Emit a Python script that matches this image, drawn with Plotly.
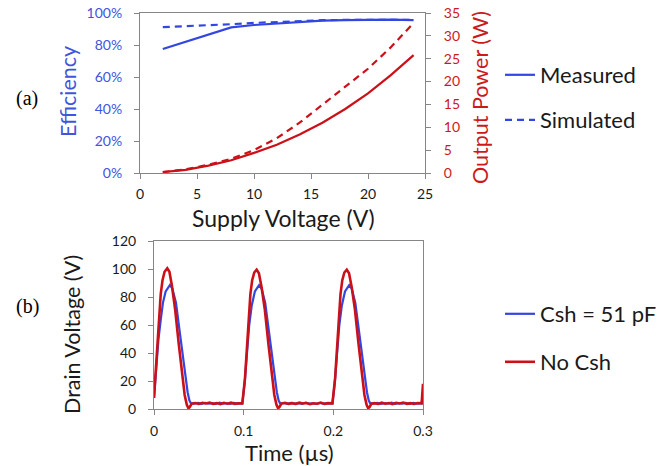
import plotly.graph_objects as go

# ---------------- data: panel (a) ----------------
supply_v = [2, 4, 6, 8, 10, 12, 14, 16, 18, 20, 22, 24]
eff_measured = [0.775, 0.82, 0.865, 0.91, 0.925, 0.935, 0.945, 0.952, 0.955, 0.957, 0.958, 0.955]
eff_simulated = [0.912, 0.917, 0.923, 0.930, 0.938, 0.945, 0.952, 0.955, 0.957, 0.958, 0.958, 0.958]
pout_measured = [0.2, 0.7, 1.6, 2.8, 4.4, 6.2, 8.4, 11.0, 14.0, 17.4, 21.4, 25.8]
pout_simulated = [0.2, 0.8, 1.8, 3.1, 5.0, 7.6, 11.0, 15.0, 18.8, 22.8, 27.5, 32.8]

# ---------------- data: panel (b) ----------------
red_t = [0.000, 0.0025, 0.0053, 0.0075, 0.0095, 0.0118, 0.0148, 0.0172, 0.0200, 0.0236, 0.0275, 0.0315, 0.0342, 0.0366, 0.0384, 0.0400, 0.0420,
         0.046, 0.050, 0.054, 0.058, 0.062, 0.066, 0.070, 0.074, 0.078, 0.082, 0.086, 0.090, 0.094, 0.0985,
         0.1015, 0.1053, 0.1075, 0.1095, 0.1118, 0.1145, 0.1170, 0.1200, 0.1236, 0.1275, 0.1315, 0.1342, 0.1366, 0.1384, 0.1400, 0.1420,
         0.146, 0.150, 0.154, 0.158, 0.162, 0.166, 0.170, 0.174, 0.178, 0.182, 0.186, 0.190, 0.194, 0.1990,
         0.2020, 0.2058, 0.2080, 0.2100, 0.2123, 0.2150, 0.2175, 0.2205, 0.2241, 0.2280, 0.2320, 0.2347, 0.2371, 0.2389, 0.2405, 0.2425,
         0.246, 0.250, 0.254, 0.258, 0.262, 0.266, 0.270, 0.274, 0.278, 0.282, 0.286, 0.290, 0.294, 0.2985, 0.3000]
red_v = [8, 34, 62, 82, 92, 98, 100.5, 98, 88, 71, 47, 24, 10, 3, 0.5, 1.5, 3.8,
         4.3, 3.6, 4.4, 3.9, 4.6, 3.7, 4.2, 3.5, 4.4, 3.8, 4.5, 3.7, 4.1, 4.0,
         22, 62, 82, 92, 97.5, 99.5, 97, 87, 71, 47, 24, 10, 3, 0.5, 1.5, 3.8,
         4.4, 3.7, 4.2, 3.6, 4.5, 3.9, 4.3, 3.4, 4.1, 3.8, 4.6, 3.6, 4.2, 4.0,
         22, 62, 82, 92, 97.5, 99.5, 97, 87, 71, 47, 24, 10, 3, 0.5, 1.5, 3.8,
         4.2, 3.6, 4.5, 3.8, 4.3, 3.5, 4.4, 3.9, 4.6, 3.7, 4.2, 3.6, 4.3, 4.0, 18]

blue_t = [0.000, 0.0025, 0.0050, 0.0076, 0.0100, 0.0130, 0.0178, 0.0205, 0.0245, 0.0285, 0.0320, 0.0349, 0.0375, 0.0395, 0.0410,
          0.045, 0.049, 0.053, 0.057, 0.061, 0.065, 0.069, 0.073, 0.077, 0.081, 0.085, 0.089, 0.093, 0.0985,
          0.1010, 0.1035, 0.1062, 0.1090, 0.1125, 0.1172, 0.1200, 0.1240, 0.1280, 0.1315, 0.1344, 0.1370, 0.1390, 0.1405,
          0.145, 0.149, 0.153, 0.157, 0.161, 0.165, 0.169, 0.173, 0.177, 0.181, 0.185, 0.189, 0.193, 0.1990,
          0.2015, 0.2040, 0.2067, 0.2095, 0.2130, 0.2177, 0.2205, 0.2245, 0.2285, 0.2320, 0.2349, 0.2375, 0.2395, 0.2410,
          0.245, 0.249, 0.253, 0.257, 0.261, 0.265, 0.269, 0.273, 0.277, 0.281, 0.285, 0.289, 0.293, 0.2985, 0.3000]
blue_v = [8, 28, 50, 64, 76, 84, 88.6, 86, 76, 56, 38, 24, 12, 6, 4.2,
          3.8, 4.3, 3.7, 4.4, 3.9, 4.2, 3.6, 4.5, 3.8, 4.1, 3.7, 4.4, 3.9, 4.0,
          18, 40, 60, 74, 84, 88.5, 86, 76, 56, 38, 24, 12, 6, 4.2,
          4.1, 3.7, 4.4, 3.8, 4.2, 3.6, 4.5, 3.9, 4.1, 3.7, 4.3, 3.8, 4.2, 4.0,
          18, 40, 60, 74, 84, 88.5, 86, 76, 56, 38, 24, 12, 6, 4.2,
          3.9, 4.4, 3.7, 4.2, 3.8, 4.5, 3.6, 4.1, 3.9, 4.3, 3.7, 4.4, 3.8, 4.0, 12]

BLUE = "#3346e0"
BLUE_TXT = "#4254dc"
RED = "#cc1018"
RED_TXT = "#cc1a1a"
AX = "#868686"
TXT = "#1a1a1a"
FONT = "Lato"

W, H = 668, 466

def px(x):
    return x / W

def py(y):
    return 1 - y / H

fig = go.Figure()

# panel (a)
fig.add_trace(go.Scatter(x=supply_v, y=eff_measured, mode="lines", name="Measured",
                         line=dict(color=BLUE, width=2.2), xaxis="x", yaxis="y", legend="legend"))
fig.add_trace(go.Scatter(x=supply_v, y=eff_simulated, mode="lines", name="Simulated",
                         line=dict(color=BLUE, width=2.2, dash="7px,5px"), xaxis="x", yaxis="y", legend="legend2"))
fig.add_trace(go.Scatter(x=supply_v, y=pout_measured, mode="lines", name="Measured power", showlegend=False,
                         line=dict(color=RED, width=2.2), xaxis="x", yaxis="y2"))
fig.add_trace(go.Scatter(x=supply_v, y=pout_simulated, mode="lines", name="Simulated power", showlegend=False,
                         line=dict(color=RED, width=2.2, dash="7px,5px"), xaxis="x", yaxis="y2"))

# panel (b)
fig.add_trace(go.Scatter(x=blue_t, y=blue_v, mode="lines", name="Csh = 51 pF",
                         line=dict(color=BLUE, width=2.2), xaxis="x2", yaxis="y3", legend="legend3"))
fig.add_trace(go.Scatter(x=red_t, y=red_v, mode="lines", name="No Csh",
                         line=dict(color=RED, width=2.6), xaxis="x2", yaxis="y3", legend="legend4"))

tick_font = dict(family=FONT, size=14, color=TXT)

axis_common = dict(showgrid=False, zeroline=False, showline=True, linecolor=AX, linewidth=1,
                   ticks="outside", ticklen=5, tickcolor=AX, tickwidth=1, automargin=False)

fig.update_layout(
    width=W, height=H,
    margin=dict(l=0, r=0, t=0, b=0, autoexpand=False),
    paper_bgcolor="white", plot_bgcolor="white",
    font=dict(family=FONT, color=TXT),
    xaxis=dict(domain=[px(140), px(425)], range=[0, 25], tickvals=[0, 5, 10, 15, 20, 25],
               anchor="y", mirror=True, tickfont=tick_font, ticklabelstandoff=3, **axis_common),
    yaxis=dict(domain=[py(173), py(13)], range=[0, 1], tickvals=[0, 0.2, 0.4, 0.6, 0.8, 1.0],
               tickformat=".0%", anchor="x", ticklabelstandoff=9,
               tickfont=dict(family=FONT, size=14, color=BLUE_TXT), **axis_common),
    yaxis2=dict(range=[0, 35], tickvals=[0, 5, 10, 15, 20, 25, 30, 35], overlaying="y", side="right",
                anchor="x", ticklabelstandoff=10, tickfont=dict(family=FONT, size=14, color=RED_TXT), **axis_common),
    xaxis2=dict(domain=[px(154), px(423)], range=[0, 0.3], tickvals=[0, 0.1, 0.2, 0.3],
                ticktext=["0", "0.1", "0.2", "0.3"], anchor="y3", mirror=True, ticklabelstandoff=4,
                tickfont=tick_font, **axis_common),
    yaxis3=dict(domain=[py(409), py(241)], range=[0, 120], tickvals=[0, 20, 40, 60, 80, 100, 120],
                anchor="x2", mirror=True, ticklabelstandoff=9, tickfont=tick_font, **axis_common),
)

leg_common = dict(xanchor="left", yanchor="middle", xref="container", yref="container",
                  bgcolor="rgba(0,0,0,0)", borderwidth=0,
                  font=dict(family=FONT, size=22, color=TXT), itemwidth=30)
fig.update_layout(
    legend=dict(x=px(500), y=py(75), **leg_common),
    legend2=dict(x=px(500), y=py(120), **leg_common),
    legend3=dict(x=px(500), y=py(314), **leg_common),
    legend4=dict(x=px(500), y=py(362), **leg_common),
)

annotations = [
    dict(text="Efficiency", x=px(68), y=py(92), textangle=-90, font=dict(family=FONT, size=21.5, color=BLUE_TXT)),
    dict(text="Output Power (W)", x=px(480), y=py(98), textangle=-90, font=dict(family=FONT, size=21.5, color=RED_TXT)),
    dict(text="Supply Voltage (V)", x=px(283), y=py(218), font=dict(family=FONT, size=23, color=TXT)),
    dict(text="Drain Voltage (V)", x=px(72), y=py(335), textangle=-90, font=dict(family=FONT, size=21.5, color=TXT)),
    dict(text="Time (µs)", x=px(289), y=py(452), font=dict(family=FONT, size=22, color=TXT)),
    dict(text="(a)", x=px(27), y=py(98), font=dict(family="Liberation Serif", size=20, color="black")),
    dict(text="(b)", x=px(27), y=py(306), font=dict(family="Liberation Serif", size=20, color="black")),
]
for a in annotations:
    a.update(xref="paper", yref="paper", showarrow=False, xanchor="center", yanchor="middle")
fig.update_layout(annotations=annotations)

fig.write_html("out.html", config={"displayModeBar": False},
               post_script="document.body.style.margin='0';document.body.style.overflow='hidden';")
